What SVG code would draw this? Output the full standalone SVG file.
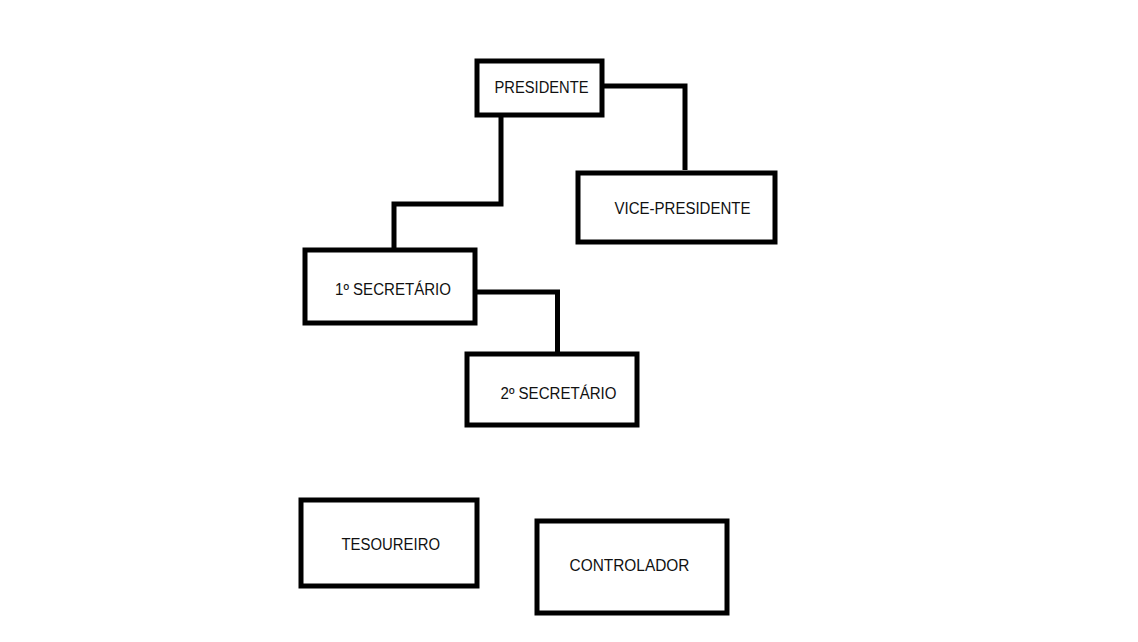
<svg xmlns="http://www.w3.org/2000/svg" width="1138" height="642" viewBox="0 0 1138 642">
<style>
.box{fill:#fff;stroke:#000;stroke-width:5}
.lbl{font-family:"Liberation Sans",Arial,sans-serif;font-size:16px;fill:#111}
.con{fill:none;stroke:#000;stroke-width:5;stroke-linejoin:miter}
</style>
<rect width="1138" height="642" fill="#fff"/>
<g id="connectors">
<polyline class="con" points="602,86 685,86 685,170"/>
<polyline class="con" points="501,115 501,204 394,204 394,250"/>
<polyline class="con" points="475,292 557.5,292 557.5,354"/>
</g>
<g id="presidente">
<rect class="box" x="477" y="61" width="125" height="54"/>
<text class="lbl" x="494.5" y="93" textLength="94" lengthAdjust="spacingAndGlyphs">PRESIDENTE</text>
</g>
<g id="vice-presidente">
<rect class="box" x="578" y="173" width="197" height="69"/>
<text class="lbl" x="614.5" y="214" textLength="136" lengthAdjust="spacingAndGlyphs">VICE-PRESIDENTE</text>
</g>
<g id="primeiro-secretario">
<rect class="box" x="305" y="250" width="170" height="73"/>
<text class="lbl" x="335" y="295" textLength="116" lengthAdjust="spacingAndGlyphs">1º SECRETÁRIO</text>
</g>
<g id="segundo-secretario">
<rect class="box" x="467" y="354" width="170" height="71"/>
<text class="lbl" x="500.5" y="399" textLength="116" lengthAdjust="spacingAndGlyphs">2º SECRETÁRIO</text>
</g>
<g id="tesoureiro">
<rect class="box" x="301" y="500" width="176" height="86"/>
<text class="lbl" x="341.5" y="550" textLength="98.5" lengthAdjust="spacingAndGlyphs">TESOUREIRO</text>
</g>
<g id="controlador">
<rect class="box" x="537" y="521" width="190" height="92"/>
<text class="lbl" x="569.5" y="571" textLength="120" lengthAdjust="spacingAndGlyphs">CONTROLADOR</text>
</g>
</svg>
